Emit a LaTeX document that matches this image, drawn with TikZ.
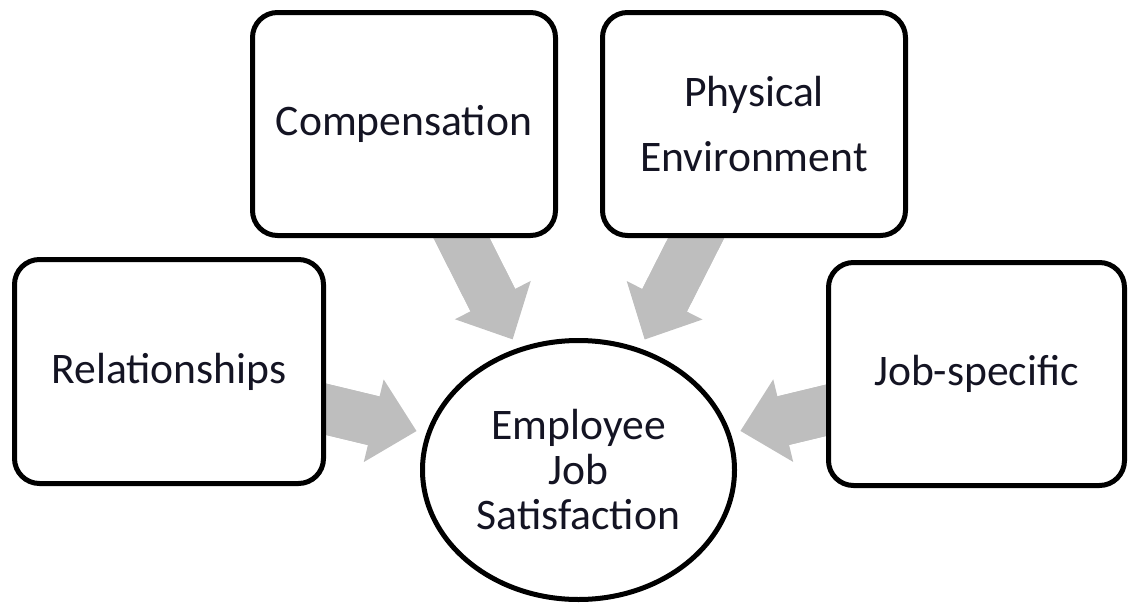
\documentclass[tikz,border=0pt]{standalone}
\usepackage{fontspec}
\setmainfont{Carlito}
\usetikzlibrary{arrows.meta,backgrounds,shapes.geometric}
\definecolor{txt}{RGB}{20,20,35}
\definecolor{flow}{RGB}{190,190,190}
\begin{document}
\begin{tikzpicture}[x=0.5pt,y=-0.5pt,
  factor/.style={draw=black, line width=2.5pt, rounded corners=12.5pt, fill=white,
    inner sep=0pt, align=center, text=txt, font=\fontsize{21.8}{32.5}\selectfont},
  goal/.style={ellipse, draw=black, line width=2.5pt, fill=white, inner sep=0pt,
    minimum width=156pt, minimum height=129.5pt, align=center, text=txt,
    font=\fontsize{21.8}{22.5}\selectfont},
  flowarrow/.style={draw=flow, line width=25pt,
    -{Triangle[length=22pt,width=42.5pt,line width=0pt]}, shorten >=5pt},
  flowshaft/.style={draw=flow, line width=25pt, shorten >=22pt}
]
\useasboundingbox (0,0) rectangle (1130,605);

% central outcome
\node[goal] (emp) at (578.5,470) {Employee\\Job\\Satisfaction};

% contributing factors
\node[factor, minimum width=154.5pt, minimum height=112pt] (rel)  at (169,371.5) {Relationships};
\node[factor, minimum width=151.5pt, minimum height=111.5pt] (comp) at (404,124) {Compensation};
\node[factor, minimum width=151.5pt, minimum height=111.5pt] (phys) at (754,124) {Physical\\Environment};
\node[factor, minimum width=148pt, minimum height=111.5pt] (job)  at (976.5,374) {Job-specific};

% block arrows feeding the outcome (shaft overlaps the head to avoid a seam)
\begin{scope}[on background layer]
  \foreach \src in {rel,comp,phys,job} {
    \draw[flowshaft] (\src.center) -- (emp);
    \draw[flowarrow] (\src.center) -- (emp);
  }
\end{scope}
\end{tikzpicture}
\end{document}
